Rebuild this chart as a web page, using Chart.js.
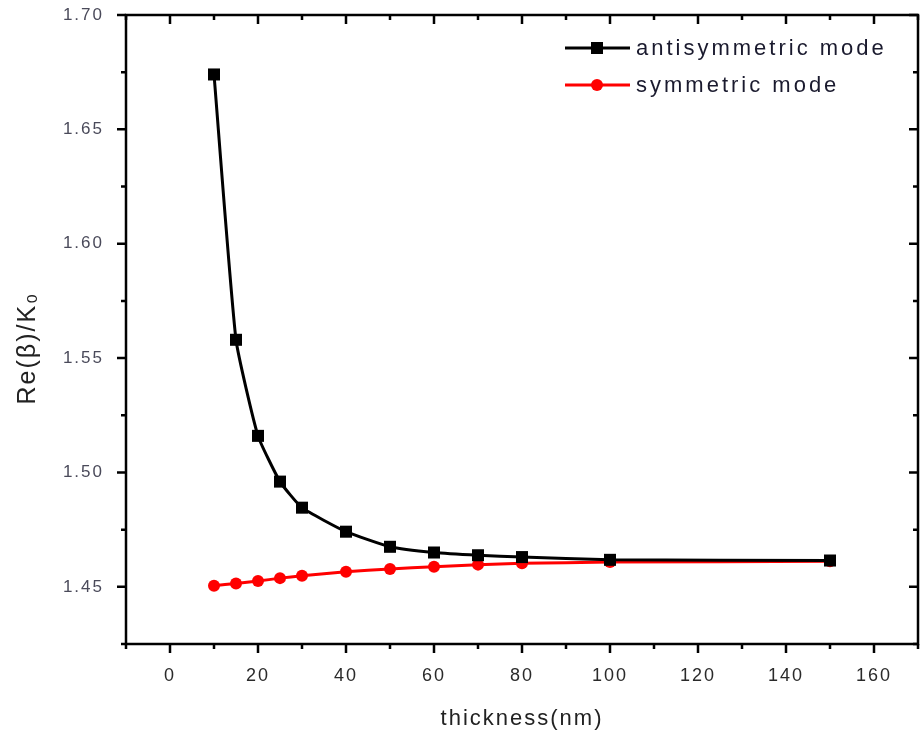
<!DOCTYPE html>
<html>
<head>
<meta charset="utf-8">
<script src="https://cdn.jsdelivr.net/npm/chart.js@4"></script>
<style>
  html, body { margin: 0; padding: 0; background: #fff; }
  #wrap { width: 921px; height: 738px; }
</style>
</head>
<body>
<div id="wrap"><canvas id="grafica" width="921" height="738"></canvas></div>
<script>
// espesor (nm)
const espesor = [10, 15, 20, 25, 30, 40, 50, 60, 70, 80, 100, 150];
// Re(beta)/k0
const modoAntisimetrico = [1.674, 1.558, 1.516, 1.496, 1.4846, 1.4741, 1.4675, 1.465, 1.4638, 1.463, 1.4618, 1.4615];
const modoSimetrico = [1.4505, 1.4515, 1.4525, 1.4538, 1.4548, 1.4566, 1.4578, 1.4588, 1.4597, 1.4603, 1.4608, 1.4612];

const ticksX = [0, 20, 40, 60, 80, 100, 120, 140, 160];
const ticksY = [1.45, 1.50, 1.55, 1.60, 1.65, 1.70];

const FUENTE = "'Liberation Sans', Arial, sans-serif";
const tituloY = "Re(β)/K₀";

function puntos(ys) {
  return espesor.map((x, i) => ({ x: x, y: ys[i] }));
}

// marco con ticks: fuera a la izquierda/abajo, dentro arriba/derecha
const marcoPlugin = {
  id: "marco",
  beforeInit(chart) {
    chart.ctx.letterSpacing = "2px";
  },
  beforeDraw(chart) {
    chart.ctx.letterSpacing = "2px";
  },
  afterDraw(chart) {
    const ctx = chart.ctx;
    const a = chart.chartArea;
    const sx = chart.scales.x;
    const sy = chart.scales.y;
    ctx.save();
    ctx.letterSpacing = "0px";
    ctx.strokeStyle = "#000";
    ctx.lineWidth = 2.5;
    ctx.strokeRect(a.left, a.top, a.right - a.left, a.bottom - a.top);
    ctx.beginPath();
    sx.ticks.forEach((t) => {
      const px = sx.getPixelForValue(t.value);
      const largo = ticksX.includes(t.value) ? 9 : 5;
      ctx.moveTo(px, a.bottom);
      ctx.lineTo(px, a.bottom + largo);
      ctx.moveTo(px, a.top);
      ctx.lineTo(px, a.top + largo);
    });
    sy.ticks.forEach((t) => {
      const py = sy.getPixelForValue(t.value);
      const mayor = ticksY.some((v) => Math.abs(v - t.value) < 1e-6);
      const largo = mayor ? 9 : 5;
      ctx.moveTo(a.left, py);
      ctx.lineTo(a.left - largo, py);
      ctx.moveTo(a.right, py);
      ctx.lineTo(a.right - largo, py);
    });
    ctx.stroke();

    // titulo eje Y
    ctx.save();
    ctx.letterSpacing = "2px";
    ctx.translate(28, 348);
    ctx.rotate(-Math.PI / 2);
    ctx.font = "25px " + FUENTE;
    ctx.fillStyle = "#222";
    ctx.textAlign = "center";
    ctx.textBaseline = "middle";
    ctx.fillText(tituloY, 0, 0);
    ctx.restore();

    // leyenda
    ctx.letterSpacing = "3px";
    ctx.font = "22px " + FUENTE;
    ctx.textBaseline = "middle";
    ctx.textAlign = "left";
    chart.data.datasets.forEach((ds, i) => {
      const y = 48 + i * 37;
      ctx.strokeStyle = ds.borderColor;
      ctx.lineWidth = 3;
      ctx.beginPath();
      ctx.moveTo(565, y);
      ctx.lineTo(630, y);
      ctx.stroke();
      ctx.fillStyle = ds.pointBackgroundColor;
      if (ds.pointStyle === "rect") {
        ctx.fillRect(591, y - 6, 12, 12);
      } else {
        ctx.beginPath();
        ctx.arc(597, y, 6, 0, Math.PI * 2);
        ctx.fill();
      }
      ctx.fillStyle = "#1a1a2e";
      ctx.fillText(ds.label, 636, y + 1);
    });
    ctx.restore();
  },
};

new Chart(document.getElementById("grafica"), {
  type: "scatter",
  data: {
    datasets: [
      {
        label: "antisymmetric mode",
        data: puntos(modoAntisimetrico),
        showLine: true,
        borderColor: "#000000",
        borderWidth: 3,
        pointStyle: "rect",
        pointRadius: 8.5,
        pointBackgroundColor: "#000000",
        pointBorderWidth: 0,
        tension: 0.15,
      },
      {
        label: "symmetric mode",
        data: puntos(modoSimetrico),
        showLine: true,
        borderColor: "#ff0000",
        borderWidth: 3,
        pointStyle: "circle",
        pointRadius: 6,
        pointBackgroundColor: "#ff0000",
        pointBorderWidth: 0,
        tension: 0.15,
      },
    ],
  },
  options: {
    responsive: false,
    animation: false,
    layout: { autoPadding: false, padding: { top: 15, right: 3, left: 0, bottom: 0 } },
    plugins: {
      legend: { display: false },
      tooltip: { enabled: false },
    },
    scales: {
      x: {
        type: "linear",
        min: -10,
        max: 170,
        grid: { display: false },
        border: { display: false },
        ticks: {
          stepSize: 10,
          autoSkip: false,
          maxRotation: 0,
          padding: 13,
          color: "#2a2a2a",
          font: { family: FUENTE, size: 18 },
          callback: (v) => (ticksX.includes(v) ? String(v) : ""),
        },
        title: {
          display: true,
          text: "thickness(nm)",
          color: "#222",
          font: { family: FUENTE, size: 22 },
          padding: { top: 0, bottom: 6 },
        },
        afterFit: (s) => {
          s.height = 94;
          s.paddingLeft = 0;
          s.paddingRight = 0;
        },
      },
      y: {
        type: "linear",
        min: 1.425,
        max: 1.70,
        grid: { display: false },
        border: { display: false },
        ticks: {
          stepSize: 0.025,
          autoSkip: false,
          padding: 14,
          color: "#4a4a5a",
          font: { family: FUENTE, size: 17 },
          callback: (v) =>
            ticksY.some((t) => Math.abs(t - v) < 1e-6) ? v.toFixed(2) : "",
        },
        title: { display: false },
        afterFit: (s) => {
          s.width = 126;
          s.paddingTop = 0;
          s.paddingBottom = 0;
        },
      },
    },
  },
  plugins: [marcoPlugin],
});
</script>
</body>
</html>
